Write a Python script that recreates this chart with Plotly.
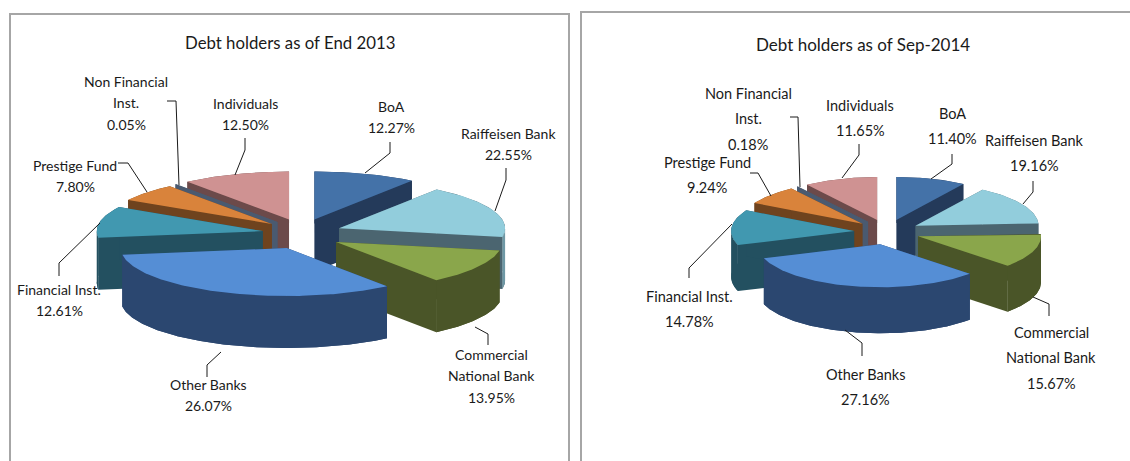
import numpy as np
import plotly.graph_objects as go

categories = ["BoA", "Raiffeisen Bank", "Commercial<br>National Bank", "Other Banks",
              "Financial Inst.", "Prestige Fund", "Non Financial<br>Inst.", "Individuals"]
values_2013 = [12.27, 22.55, 13.95, 26.07, 12.61, 7.80, 0.05, 12.50]
values_2014 = [11.40, 19.16, 15.67, 27.16, 14.78, 9.24, 0.18, 11.65]
title_2013 = "Debt holders as of End 2013"
title_2014 = "Debt holders as of Sep-2014"

TOP = ["#4472A8", "#92CDDC", "#8AA64B", "#558ED5", "#4198B0", "#D9833B", "#4F6D8F", "#CF9292"]
WALL = ["#243A5A", "#4B6570", "#4A5528", "#2B4770", "#235060", "#6F431E", "#4A5A70", "#6C4A4A"]
RIM = ["#243A5A", "#6E98A5", "#4A5528", "#2B4770", "#235060", "#6F431E", "#4A5A70", "#6C4A4A"]
PAINT_ORDER = [0, 7, 6, 5, 4, 1, 2, 3]
# the reference's 3-D projection bends sweep angles slightly
WARP_IN = [0, 41, 116, 163, 250, 292, 318, 360]
WARP_OUT = [0, 36, 100, 143, 262, 300, 322, 360]
FONT = "Lato, Liberation Sans, sans-serif"

fig = go.Figure()


def poly(xs, ys, color):
    fig.add_trace(go.Scatter(x=xs, y=ys, mode="lines", fill="toself", fillcolor=color,
                             line=dict(width=0, color=color), hoverinfo="skip", showlegend=False))


def draw_pie(values, cx, cy, rx, ry, depth, ex):
    edges = np.cumsum([0] + values) / sum(values) * 360
    phi = np.interp(edges, WARP_IN, WARP_OUT)
    for i in PAINT_ORDER:
        a0, a1 = phi[i], phi[i + 1]
        mid = np.radians((a0 + a1) / 2)
        ax = cx + ex * np.sin(mid)
        ay = cy - ex * 0.38 * np.cos(mid)
        t = np.radians(np.linspace(a0, a1, max(3, int(a1 - a0) + 2)))
        xr = ax + rx * np.sin(t)
        yr = ay - ry * np.cos(t)
        # full silhouette of the side walls
        poly(list(xr) + list(xr[::-1]), list(yr) + list(yr[::-1] + depth), WALL[i])
        for j in (0, -1):
            poly([ax, xr[j], xr[j], ax], [ay, yr[j], yr[j] + depth, ay + depth], WALL[i])
        # front-facing rim
        f = (np.degrees(t) >= 90) & (np.degrees(t) <= 270)
        if f.sum() > 1:
            poly(list(xr[f]) + list(xr[f][::-1]), list(yr[f]) + list(yr[f][::-1] + depth), RIM[i])
        # top face
        poly([ax] + list(xr) + [ax], [ay] + list(yr) + [ay], TOP[i])


def leader(points):
    fig.add_trace(go.Scatter(x=[p[0] for p in points], y=[p[1] for p in points], mode="lines",
                             line=dict(color="#1a1a1a", width=1), hoverinfo="skip", showlegend=False))


def text(x, y, s, size):
    fig.add_annotation(x=x, y=y, text=s, showarrow=False, xanchor="center", yanchor="middle",
                       font=dict(family=FONT, size=size, color="#1a1a1a"))


def labels(values, places, gap, size):
    for name, v, (x, y) in zip(categories, values, places):
        lines = name.split("<br>") + [f"{v:.2f}%"]
        for n, s in enumerate(lines):
            text(x, y + n * gap, s, size)


draw_pie(values_2013, 302, 234, 166, 48, 52, 40)
draw_pie(values_2014, 887, 232, 123, 43, 46, 33)

for pts in [
    [(390, 142), (390, 153), (365, 173)], [(506, 168), (506, 180), (495, 211)],
    [(475, 327), (488, 334), (488, 345)], [(221, 352), (207, 365), (207, 377)],
    [(100, 223), (59, 263), (59, 276)], [(118, 163), (128, 163), (147, 192)],
    [(167, 101), (176, 101), (179, 185)], [(245, 138), (245, 150), (235, 175)],
    [(952, 154), (952, 164), (931, 179)], [(1033, 181), (1033, 192), (1023, 204)],
    [(1033, 297), (1049, 304), (1049, 316)], [(845, 330), (862, 343), (862, 356)],
    [(732, 224), (689, 268), (689, 278)], [(750, 173), (758, 173), (771, 196)],
    [(790, 117), (798, 117), (800, 187)], [(859, 144), (859, 155), (842, 178)],
]:
    leader(pts)

labels(values_2013, [(391, 106), (508, 133), (491, 354), (208, 384), (59, 289), (75, 165), (126, 81), (245, 103)], 21.5, 14)
labels(values_2014, [(952, 113), (1034, 140), (1051, 332), (865, 374), (689, 296), (707, 162), (748, 93), (860, 105)], 25.5, 14.5)
text(290, 42, title_2013, 16.8)
text(863, 44, title_2014, 17)

frame = dict(color="#A6A6A6", width=2)
shapes = [
    dict(type="path", path="M 10 470 L 10 14 L 569 14 L 569 470", line=frame),
    dict(type="path", path="M 581 470 L 581 12 L 1135 12", line=frame),
]

fig.update_layout(
    width=1130, height=461, margin=dict(l=0, r=0, t=0, b=0),
    paper_bgcolor="white", plot_bgcolor="white", showlegend=False, shapes=shapes,
    xaxis=dict(range=[0, 1130], visible=False, domain=[0, 1]),
    yaxis=dict(range=[461, 0], visible=False, domain=[0, 1]),
)
fig.write_html("out.html", config=dict(displayModeBar=False),
               post_script="document.body.style.margin='0';document.body.style.overflow='hidden';")
